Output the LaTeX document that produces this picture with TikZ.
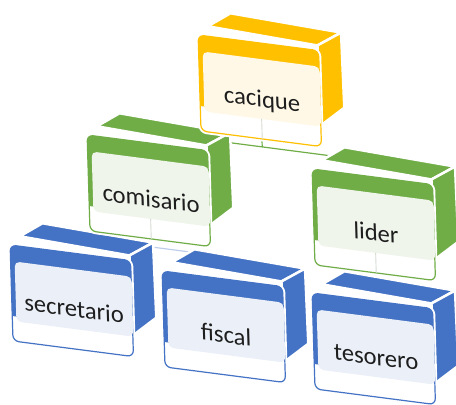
\documentclass[tikz,border=0pt]{standalone}
\usepackage{fontspec}
\setmainfont{Carlito}
\usetikzlibrary{calc}
\definecolor{org}{HTML}{FFC000}
\definecolor{grn}{HTML}{70AD47}
\definecolor{blu}{HTML}{4472C4}
\definecolor{orgL}{HTML}{FFF8E6}
\definecolor{grnL}{HTML}{EFF5EB}
\definecolor{bluL}{HTML}{EAEFF8}
\definecolor{txt}{HTML}{1E1E1E}
\definecolor{stubc}{HTML}{D6DCD2}
\tikzset{
  lbl/.style={font=\fontsize{24.5}{29}\selectfont, text=txt, anchor=base, inner sep=0pt, transform shape},
  face/.style={fill=#1, draw=white, line width=2.5pt, line join=round},
  conn/.style={draw=#1, line width=1.2pt},
  stubline/.style={draw=stubc, line width=0.9pt}
}
\newcommand\drawbox[6]{%
\begin{scope}[shift={(#2,#3)}, xslant=-0.03, yslant=-0.13]
  \path[face=#4] (10,106) -- (119,101) -- (143,117) -- (33,122) -- cycle;
  \path[face=#4] (119,101) -- (143,117) -- (144,42) -- (121,22) -- cycle;
  \draw[white, line width=5pt, rounded corners=6pt] (0,0) rectangle (120,96);
  \fill[white, rounded corners=6pt] (0,0) rectangle (120,96);
  \begin{scope}
    \clip (-3,25) rectangle (123,99);
    \fill[#4, rounded corners=6pt] (0,0) rectangle (120,96);
  \end{scope}
  \draw[#4, line width=1.2pt, rounded corners=6pt] (0,0) rectangle (120,96);
  \fill[#5, rounded corners=5pt] (4,20) rectangle (120.5,80);
  \coordinate (#1-s) at (61,20);
  \coordinate (#1-b) at (61,0);
  \coordinate (#1-top) at (61,106);
  \coordinate (#1-j) at (61,-8);
  \node[lbl] (#1) at (62,32) {#6};
\end{scope}}
\begin{document}
\begin{tikzpicture}[x=1pt,y=1pt]
\useasboundingbox (0,0) rectangle (456,405);
\clip (0,0) rectangle (456,405);
% connector anchor points (placed in the same slanted frame as the boxes)
\coordinate (cacique-j) at (262.2,258.1);
\coordinate (comisario-j) at (151.2,158.1);
\coordinate (cacique-jl) at ($(cacique-j)+(-113,14.7)$);
\coordinate (cacique-jr) at ($(cacique-j)+(113,-14.7)$);
\coordinate (comisario-jl) at ($(comisario-j)+(-78,10.1)$);
\coordinate (comisario-jr) at ($(comisario-j)+(75,-9.8)$);
\coordinate (cacique-b0) at (262,266);
\coordinate (comisario-b0) at (151,166);
\coordinate (lider-b0) at (376,132);
\coordinate (secretario-t0) at (70.8,162.1);
\coordinate (fiscal-t0) at (222.8,136.1);
\coordinate (tesorero-t0) at (372.8,114.1);
\coordinate (comisario-t0) at (147.8,272.1);
\coordinate (lider-t0) at (372.8,238.1);
% connectors behind the boxes
\draw[conn=grn] (cacique-b0) -- (cacique-j);
\draw[conn=grn] (cacique-jl) -- (cacique-jr);
\draw[conn=grn] (cacique-jl) -- (comisario-t0);
\draw[conn=grn] (cacique-jr) -- (lider-t0);
\draw[conn=blu!35] (comisario-b0) -- (comisario-j);
\draw[conn=blu!35] (comisario-jl) -- (comisario-jr);
\draw[conn=blu!35] (comisario-jl) -- (secretario-t0);
\draw[conn=blu!35] (comisario-jr) -- (fiscal-t0);
\draw[conn=blu!35] (lider-b0) -- (tesorero-t0);
% boxes, back to front
\drawbox{secretario}{13}{64}{blu}{bluL}{secretario}
\drawbox{fiscal}{165}{38}{blu}{bluL}{fiscal}
\drawbox{tesorero}{315}{16}{blu}{bluL}{tesorero}
\drawbox{comisario}{90}{174}{grn}{grnL}{comisario}
\drawbox{lider}{315}{140}{grn}{grnL}{lider}
\drawbox{cacique}{201}{274}{org}{orgL}{cacique}
% stubs in the parents' lower strips
\draw[stubline] (cacique-s) -- (cacique-b);
\draw[stubline] (comisario-s) -- (comisario-b);
\draw[stubline] (lider-s) -- (lider-b);
\end{tikzpicture}
\end{document}
